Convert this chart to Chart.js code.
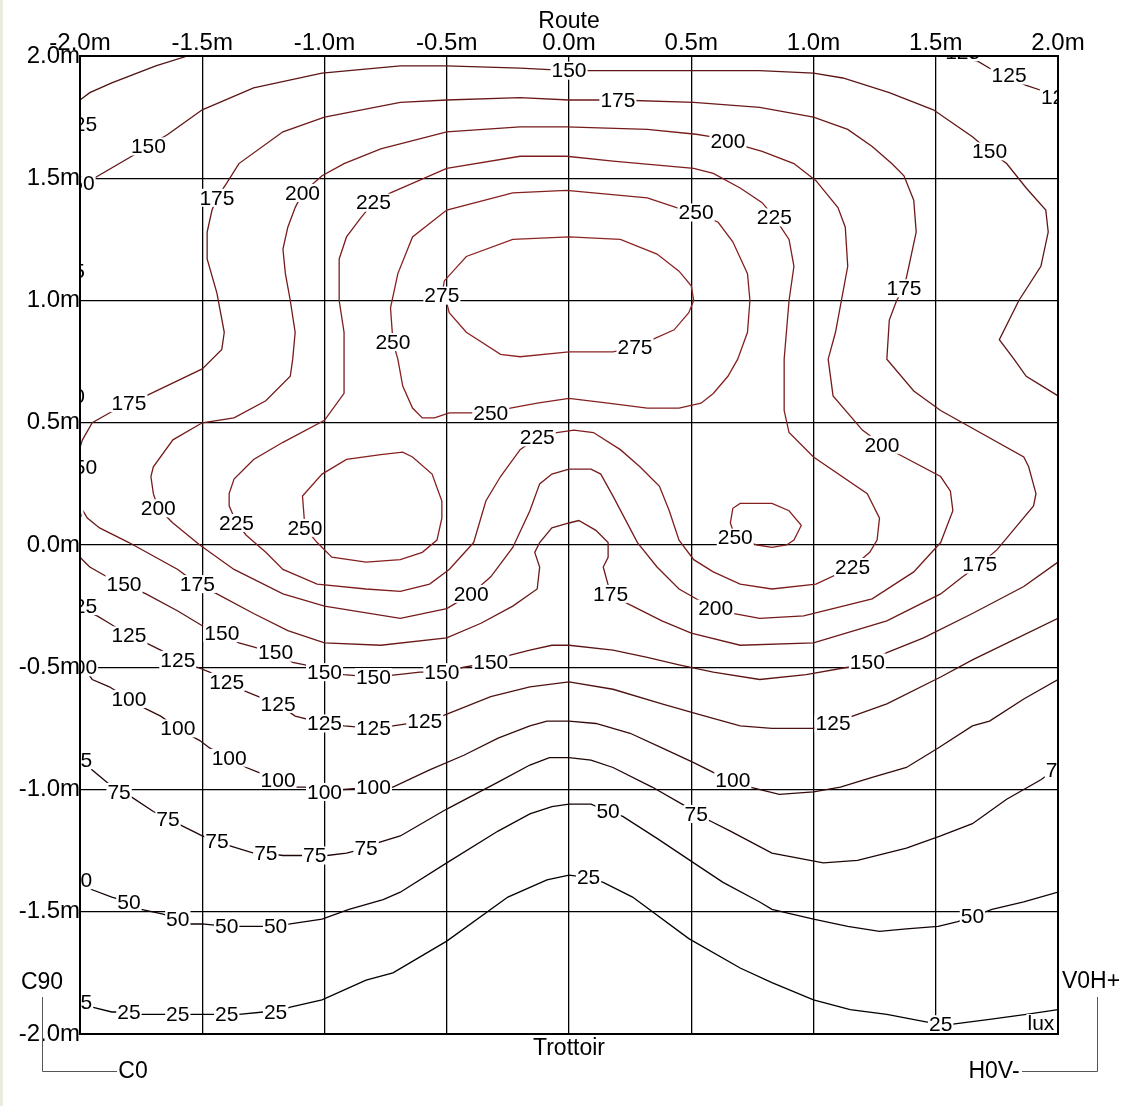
<!DOCTYPE html>
<html><head><meta charset="utf-8">
<script src="https://cdn.jsdelivr.net/npm/chart.js@4.4.1/dist/chart.umd.min.js"></script>
<style>
html,body{margin:0;padding:0;background:#fff;}
#wrap{position:relative;width:1131px;height:1106px;overflow:hidden;}
#strip{position:absolute;left:0;top:0;width:3px;height:1106px;background:#ecebe0;}
canvas{display:block;}
</style></head><body>
<div id="wrap"><canvas id="c" width="1131" height="1106"></canvas><div id="strip"></div></div>
<script>
// ---- axis ticks (metres) ----
const xTickValues = [-2, -1.5, -1, -0.5, 0, 0.5, 1, 1.5, 2];
const yTickValues = [-2, -1.5, -1, -0.5, 0, 0.5, 1, 1.5, 2];
const topTitle = 'Route';
const bottomTitle = 'Trottoir';
const unitLabel = 'lux';

// ---- isolux contour polylines, [x m, y m] ----
const iso275 = [[-0.52,1.02],[-0.51,1.08],[-0.42,1.18],[-0.23,1.25],[0.00,1.26],[0.21,1.25],[0.36,1.19],[0.45,1.12],[0.50,1.06],[0.51,1.00],[0.49,0.95],[0.43,0.88],[0.34,0.84],[0.27,0.81],[0.18,0.79],[0.00,0.79],[-0.20,0.77],[-0.28,0.78],[-0.42,0.87],[-0.49,0.95],[-0.50,0.99],[-0.52,1.02]];
const iso250Top = [[0.52,1.36],[0.44,1.38],[0.32,1.42],[-0.01,1.45],[-0.23,1.44],[-0.50,1.37],[-0.64,1.26],[-0.70,1.11],[-0.73,0.97],[-0.72,0.83],[-0.70,0.76],[-0.68,0.65],[-0.64,0.56],[-0.60,0.52],[-0.55,0.52],[-0.49,0.54],[-0.32,0.54],[-0.24,0.56],[-0.13,0.58],[0.00,0.60],[0.16,0.58],[0.32,0.56],[0.45,0.56],[0.54,0.58],[0.59,0.62],[0.65,0.69],[0.69,0.76],[0.73,0.87],[0.74,1.00],[0.73,1.11],[0.67,1.24],[0.61,1.32],[0.52,1.36]];
const iso250Left = [[-1.08,0.07],[-1.09,0.20],[-1.01,0.29],[-0.91,0.35],[-0.77,0.37],[-0.68,0.38],[-0.64,0.36],[-0.56,0.29],[-0.52,0.18],[-0.52,0.11],[-0.54,0.02],[-0.60,-0.03],[-0.69,-0.06],[-0.83,-0.07],[-0.97,-0.05],[-1.03,0.01],[-1.08,0.07]];
const iso250Right = [[0.68,0.03],[0.66,0.09],[0.67,0.15],[0.70,0.17],[0.83,0.17],[0.90,0.14],[0.95,0.08],[0.92,0.02],[0.89,0.00],[0.83,-0.01],[0.77,0.00],[0.68,0.03]];
const iso225 = [[-0.80,1.40],[-0.85,1.34],[-0.91,1.26],[-0.94,1.17],[-0.94,1.00],[-0.92,0.87],[-0.92,0.62],[-1.00,0.51],[-1.17,0.42],[-1.29,0.35],[-1.37,0.27],[-1.39,0.21],[-1.39,0.16],[-1.36,0.09],[-1.32,0.04],[-1.24,-0.03],[-1.17,-0.10],[-1.03,-0.16],[-0.83,-0.18],[-0.69,-0.19],[-0.57,-0.16],[-0.49,-0.10],[-0.39,0.01],[-0.34,0.18],[-0.28,0.28],[-0.20,0.39],[-0.13,0.44],[-0.05,0.46],[0.02,0.47],[0.10,0.46],[0.21,0.39],[0.29,0.32],[0.37,0.24],[0.41,0.14],[0.45,0.02],[0.51,-0.06],[0.59,-0.11],[0.70,-0.16],[0.83,-0.18],[1.01,-0.16],[1.16,-0.09],[1.23,-0.03],[1.26,0.02],[1.27,0.11],[1.22,0.21],[1.00,0.36],[0.90,0.46],[0.88,0.55],[0.88,0.76],[0.90,1.00],[0.92,1.14],[0.90,1.25],[0.84,1.34],[0.79,1.40],[0.70,1.46],[0.59,1.52],[0.51,1.54],[0.18,1.57],[-0.01,1.59],[-0.20,1.59],[-0.50,1.54],[-0.73,1.44],[-0.80,1.40]];
const iso200 = [[-1.09,1.44],[-1.12,1.38],[-1.15,1.30],[-1.17,1.21],[-1.16,1.11],[-1.14,1.00],[-1.12,0.87],[-1.13,0.76],[-1.14,0.69],[-1.24,0.59],[-1.37,0.52],[-1.50,0.50],[-1.62,0.43],[-1.70,0.32],[-1.71,0.28],[-1.70,0.21],[-1.68,0.15],[-1.62,0.09],[-1.51,0.00],[-1.37,-0.10],[-1.17,-0.20],[-1.00,-0.25],[-0.69,-0.30],[-0.50,-0.26],[-0.40,-0.20],[-0.32,-0.13],[-0.23,-0.01],[-0.16,0.14],[-0.12,0.25],[-0.07,0.29],[0.00,0.31],[0.09,0.31],[0.13,0.29],[0.18,0.20],[0.28,0.01],[0.36,-0.09],[0.45,-0.18],[0.52,-0.22],[0.60,-0.26],[0.67,-0.28],[0.78,-0.30],[0.96,-0.29],[1.24,-0.22],[1.41,-0.11],[1.52,0.01],[1.57,0.14],[1.56,0.22],[1.52,0.28],[1.35,0.37],[1.28,0.41],[1.20,0.47],[1.08,0.61],[1.06,0.76],[1.09,0.87],[1.14,1.14],[1.13,1.30],[1.10,1.38],[1.01,1.49],[0.92,1.56],[0.79,1.61],[0.65,1.65],[0.58,1.67],[0.52,1.68],[0.32,1.70],[-0.01,1.71],[-0.20,1.71],[-0.50,1.69],[-0.77,1.62],[-0.92,1.56],[-1.01,1.51],[-1.09,1.44]];
const iso175 = [[-2.00,0.40],[-1.99,0.43],[-1.95,0.50],[-1.88,0.54],[-1.80,0.58],[-1.73,0.61],[-1.50,0.72],[-1.42,0.80],[-1.41,0.87],[-1.44,1.03],[-1.48,1.17],[-1.48,1.28],[-1.46,1.37],[-1.44,1.42],[-1.40,1.48],[-1.35,1.56],[-1.17,1.69],[-1.00,1.75],[-0.69,1.81],[-0.50,1.82],[-0.20,1.83],[0.00,1.82],[0.20,1.82],[0.51,1.81],[0.78,1.79],[1.00,1.75],[1.14,1.70],[1.24,1.63],[1.32,1.56],[1.37,1.51],[1.41,1.41],[1.42,1.28],[1.39,1.14],[1.37,1.05],[1.34,1.00],[1.31,0.92],[1.30,0.76],[1.41,0.63],[1.52,0.55],[1.86,0.36],[1.88,0.32],[1.91,0.21],[1.90,0.16],[1.75,-0.02],[1.68,-0.08],[1.61,-0.13],[1.52,-0.20],[1.30,-0.31],[1.00,-0.40],[0.70,-0.41],[0.50,-0.36],[0.38,-0.31],[0.24,-0.24],[0.17,-0.20],[0.14,-0.09],[0.16,-0.05],[0.16,0.01],[0.11,0.06],[0.04,0.10],[0.00,0.09],[-0.07,0.07],[-0.12,0.01],[-0.14,-0.03],[-0.12,-0.09],[-0.13,-0.18],[-0.23,-0.25],[-0.36,-0.32],[-0.50,-0.38],[-0.77,-0.41],[-1.00,-0.40],[-1.15,-0.35],[-1.29,-0.28],[-1.44,-0.20],[-1.52,-0.16],[-1.60,-0.10],[-1.80,0.01],[-1.92,0.07],[-1.97,0.11],[-2.00,0.16]];
const iso150Top = [[-2.00,1.46],[-1.96,1.49],[-1.72,1.63],[-1.64,1.68],[-1.50,1.78],[-1.29,1.87],[-1.01,1.93],[-0.69,1.96],[-0.50,1.96],[-0.20,1.95],[0.00,1.94],[0.51,1.94],[0.78,1.94],[1.00,1.93],[1.12,1.91],[1.31,1.85],[1.49,1.78],[1.65,1.67],[1.72,1.61],[1.79,1.56],[1.87,1.46],[1.95,1.37],[1.96,1.28],[1.93,1.14],[1.84,1.00],[1.76,0.84],[1.82,0.76],[1.87,0.69],[2.00,0.61]];
const iso150Bottom = [[-2.00,-0.05],[-1.99,-0.06],[-1.96,-0.09],[-1.89,-0.13],[-1.82,-0.16],[-1.73,-0.20],[-1.60,-0.27],[-1.50,-0.33],[-1.42,-0.36],[-1.35,-0.40],[-1.28,-0.42],[-1.20,-0.44],[-1.13,-0.48],[-1.08,-0.49],[-1.00,-0.52],[-0.92,-0.53],[-0.80,-0.54],[-0.70,-0.53],[-0.61,-0.52],[-0.52,-0.52],[-0.43,-0.50],[-0.32,-0.48],[-0.24,-0.45],[-0.16,-0.43],[-0.07,-0.41],[0.00,-0.41],[0.18,-0.43],[0.32,-0.46],[0.45,-0.49],[0.59,-0.52],[0.78,-0.55],[0.97,-0.53],[1.14,-0.50],[1.22,-0.48],[1.30,-0.44],[1.45,-0.38],[1.65,-0.28],[1.86,-0.17],[2.00,-0.07]];
const iso125TopLeft = [[-2.00,1.82],[-1.96,1.85],[-1.87,1.89],[-1.69,1.96],[-1.56,2.00]];
const iso125TopRight = [[1.53,2.00],[1.67,1.98],[1.72,1.95],[1.80,1.91],[1.87,1.88],[1.93,1.86],[2.00,1.82]];
const iso125Bottom = [[-2.00,-0.26],[-1.93,-0.29],[-1.88,-0.32],[-1.80,-0.37],[-1.73,-0.40],[-1.67,-0.43],[-1.60,-0.47],[-1.52,-0.50],[-1.47,-0.52],[-1.40,-0.56],[-1.32,-0.60],[-1.27,-0.62],[-1.19,-0.65],[-1.12,-0.70],[-1.00,-0.73],[-0.92,-0.74],[-0.80,-0.75],[-0.72,-0.74],[-0.59,-0.72],[-0.52,-0.70],[-0.32,-0.62],[-0.16,-0.58],[0.00,-0.56],[0.18,-0.59],[0.38,-0.65],[0.52,-0.69],[0.70,-0.74],[0.83,-0.75],[1.00,-0.75],[1.08,-0.73],[1.16,-0.70],[1.30,-0.65],[1.52,-0.54],[1.65,-0.47],[2.00,-0.30]];
const iso100 = [[-2.00,-0.48],[-1.95,-0.55],[-1.88,-0.58],[-1.80,-0.63],[-1.73,-0.67],[-1.67,-0.70],[-1.60,-0.75],[-1.51,-0.80],[-1.47,-0.83],[-1.39,-0.87],[-1.32,-0.91],[-1.27,-0.93],[-1.19,-0.96],[-1.12,-0.99],[-1.08,-0.99],[-1.00,-1.01],[-0.92,-1.00],[-0.80,-0.99],[-0.72,-0.99],[-0.57,-0.92],[-0.43,-0.86],[-0.29,-0.79],[-0.16,-0.74],[-0.09,-0.72],[0.00,-0.72],[0.11,-0.73],[0.25,-0.77],[0.38,-0.83],[0.51,-0.89],[0.59,-0.93],[0.67,-0.96],[0.74,-0.99],[0.86,-1.02],[1.00,-1.01],[1.11,-0.99],[1.24,-0.95],[1.38,-0.91],[1.51,-0.83],[1.65,-0.74],[1.72,-0.72],[1.86,-0.63],[2.00,-0.55]];
const iso75 = [[-2.00,-0.85],[-1.95,-0.92],[-1.89,-0.97],[-1.84,-1.01],[-1.79,-1.03],[-1.70,-1.09],[-1.64,-1.12],[-1.58,-1.15],[-1.50,-1.19],[-1.44,-1.21],[-1.39,-1.23],[-1.29,-1.26],[-1.24,-1.26],[-1.17,-1.27],[-1.04,-1.27],[-0.99,-1.27],[-0.91,-1.26],[-0.83,-1.24],[-0.79,-1.22],[-0.69,-1.19],[-0.50,-1.08],[-0.29,-0.97],[-0.16,-0.90],[-0.08,-0.87],[0.00,-0.87],[0.09,-0.88],[0.18,-0.91],[0.34,-0.99],[0.48,-1.07],[0.52,-1.10],[0.58,-1.13],[0.66,-1.17],[0.83,-1.26],[1.04,-1.30],[1.18,-1.29],[1.38,-1.24],[1.52,-1.19],[1.65,-1.14],[1.79,-1.04],[1.93,-0.96],[2.00,-0.91]];
const iso50 = [[-2.00,-1.37],[-1.95,-1.41],[-1.87,-1.44],[-1.80,-1.46],[-1.75,-1.49],[-1.66,-1.51],[-1.60,-1.53],[-1.55,-1.55],[-1.50,-1.55],[-1.40,-1.56],[-1.35,-1.56],[-1.26,-1.56],[-1.20,-1.56],[-1.14,-1.55],[-1.01,-1.53],[-0.90,-1.49],[-0.76,-1.45],[-0.69,-1.42],[-0.50,-1.30],[-0.29,-1.17],[-0.16,-1.10],[-0.07,-1.07],[0.00,-1.06],[0.09,-1.06],[0.16,-1.09],[0.22,-1.11],[0.36,-1.20],[0.51,-1.30],[0.63,-1.38],[0.78,-1.46],[0.83,-1.49],[1.00,-1.53],[1.14,-1.56],[1.27,-1.58],[1.38,-1.57],[1.51,-1.56],[1.59,-1.54],[1.65,-1.52],[1.73,-1.49],[1.86,-1.46],[2.00,-1.42]];
const iso25 = [[-2.00,-1.87],[-1.95,-1.89],[-1.87,-1.91],[-1.80,-1.91],[-1.75,-1.92],[-1.66,-1.92],[-1.60,-1.92],[-1.55,-1.92],[-1.48,-1.92],[-1.40,-1.92],[-1.35,-1.92],[-1.25,-1.91],[-1.20,-1.91],[-1.14,-1.89],[-1.01,-1.86],[-0.83,-1.78],[-0.72,-1.75],[-0.50,-1.62],[-0.25,-1.44],[-0.09,-1.37],[0.00,-1.35],[0.08,-1.36],[0.14,-1.38],[0.26,-1.44],[0.49,-1.61],[0.70,-1.73],[0.83,-1.79],[1.00,-1.86],[1.15,-1.90],[1.30,-1.92],[1.46,-1.95],[1.52,-1.96],[1.57,-1.96],[1.72,-1.94],[1.87,-1.92],[2.00,-1.90]];

const contourValues = [275, 250, 250, 250, 225, 200, 175, 150, 150, 125, 125, 125, 100, 75, 50, 25];
const contourLines = [iso275, iso250Top, iso250Left, iso250Right, iso225, iso200, iso175, iso150Top, iso150Bottom, iso125TopLeft, iso125TopRight, iso125Bottom, iso100, iso75, iso50, iso25];

// ---- contour value labels: [value, x m, y m, anchor] ----
const isoLabels = [
  [125,1.61,2.016],[125,1.80,1.92],[125,1.93,1.83,'l'],
  [150,-1.72,1.63],[150,0.00,1.94],[150,1.72,1.61],
  [175,-1.44,1.42],[175,0.20,1.82],[175,1.37,1.05],[175,-1.80,0.58],[175,1.68,-0.08],[175,0.17,-0.20],[175,-1.52,-0.16],
  [200,-1.09,1.44],[200,0.65,1.65],[200,1.28,0.41],[200,-1.68,0.15],[200,-0.40,-0.20],[200,0.60,-0.26],
  [225,-0.80,1.40],[225,0.84,1.34],[225,-1.36,0.09],[225,-0.13,0.44],[225,1.16,-0.09],
  [250,0.52,1.36],[250,-0.72,0.83],[250,-0.32,0.54],[250,-1.08,0.07],[250,0.68,0.03],
  [275,-0.52,1.02],[275,0.27,0.81],
  [150,-1.82,-0.16],[150,-1.42,-0.36],[150,-1.20,-0.44],[150,-1.00,-0.52],[150,-0.80,-0.54],[150,-0.52,-0.52],[150,-0.32,-0.48],[150,1.22,-0.48],
  [125,-1.80,-0.37],[125,-1.60,-0.47],[125,-1.40,-0.56],[125,-1.19,-0.65],[125,-1.00,-0.73],[125,-0.80,-0.75],[125,-0.59,-0.72],[125,1.08,-0.73],
  [100,-1.80,-0.63],[100,-1.60,-0.75],[100,-1.39,-0.87],[100,-1.19,-0.96],[100,-1.00,-1.01],[100,-0.80,-0.99],[100,0.67,-0.96],
  [75,-1.84,-1.01],[75,-1.64,-1.12],[75,-1.44,-1.21],[75,-1.24,-1.26],[75,-1.04,-1.27],[75,-0.83,-1.24],[75,0.52,-1.10],[75,1.95,-0.92,'l'],
  [50,-1.80,-1.46],[50,-1.60,-1.53],[50,-1.40,-1.56],[50,-1.20,-1.56],[50,0.16,-1.09],[50,1.65,-1.52],
  [25,-1.80,-1.91],[25,-1.60,-1.92],[25,-1.40,-1.92],[25,-1.20,-1.91],[25,0.08,-1.36],[25,1.52,-1.96],
  // labels of contours cut by the left border
  [125,-1.93,1.72,'r'],[150,-1.94,1.48,'r'],[175,-1.98,1.12,'r'],[150,-1.98,0.61,'r'],[150,-1.93,0.32,'r'],[175,-1.99,0.13,'r'],
  [125,-1.93,-0.25,'r'],[100,-1.93,-0.50,'r'],[75,-1.95,-0.88,'r'],[50,-1.95,-1.37,'r'],[25,-1.95,-1.87,'r']
];
const unitPos = [1.93, -1.955];

// ---- styling (derived, not data) ----
const FONT = "'Liberation Sans', Arial, sans-serif";
function lineColor(v){
  const map = {25:'#000000',50:'#120303',75:'#1f0606',100:'#360b0b',125:'#4e1111',150:'#5e1515',175:'#6c1919',200:'#761b1b',225:'#7e1d1d',250:'#861f1f',275:'#8e2323'};
  return map[v] || '#7a1c1c';
}

const datasets = contourLines.map((pts, i) => ({
  label: String(contourValues[i]),
  data: pts.map(p => ({x: p[0], y: p[1]})),
  showLine: true,
  borderColor: lineColor(contourValues[i]),
  borderWidth: 1.3,
  pointRadius: 0,
  pointHoverRadius: 0,
  tension: 0,
  fill: false
}));

const isoPlugin = {
  id: 'iso',
  afterDatasetsDraw(chart){
    const ctx = chart.ctx, ca = chart.chartArea;
    const xs = chart.scales.x, ys = chart.scales.y;
    ctx.save();
    ctx.beginPath(); ctx.rect(ca.left, ca.top, ca.right - ca.left, ca.bottom - ca.top); ctx.clip();
    ctx.font = '21px ' + FONT;
    ctx.textBaseline = 'middle';
    const drawLab = (txt, x, y, anchor) => {
      const px = xs.getPixelForValue(x), py = ys.getPixelForValue(y);
      const w = ctx.measureText(txt).width;
      let left = px - w / 2;
      if (anchor === 'r') left = px - w;
      if (anchor === 'l') left = px;
      ctx.fillStyle = '#ffffff';
      ctx.fillRect(left - 1, py - 9, w + 2, 18);
      ctx.fillStyle = '#000000';
      ctx.textAlign = 'left';
      ctx.fillText(txt, left, py + 1);
    };
    isoLabels.forEach(l => drawLab(String(l[0]), l[1], l[2], l[3]));
    drawLab(unitLabel, unitPos[0], unitPos[1]);
    ctx.restore();

    // frame
    ctx.save();
    ctx.strokeStyle = '#000'; ctx.lineWidth = 2;
    ctx.strokeRect(ca.left, ca.top, ca.right - ca.left, ca.bottom - ca.top);
    ctx.restore();

    // titles and orientation marks
    ctx.save();
    ctx.fillStyle = '#000';
    ctx.textAlign = 'center'; ctx.textBaseline = 'middle';
    ctx.font = '23px ' + FONT;
    const cx = xs.getPixelForValue(0);
    ctx.fillText(topTitle, cx, 22);
    ctx.fillText(bottomTitle, cx, 1049);
    ctx.fillText('C90', 42, 983);
    ctx.fillText('C0', 133, 1072);
    ctx.fillText('V0H+', 1091, 982);
    ctx.fillText('H0V-', 994, 1072);
    ctx.strokeStyle = '#555'; ctx.lineWidth = 1;
    ctx.beginPath();
    ctx.moveTo(42.5, 997); ctx.lineTo(42.5, 1071.5); ctx.lineTo(117, 1071.5);
    ctx.moveTo(1097.5, 997); ctx.lineTo(1097.5, 1071.5); ctx.lineTo(1022, 1071.5);
    ctx.stroke();
    ctx.restore();
  }
};

const tickFmt = v => (Math.round(v * 10) / 10).toFixed(1) + 'm';

new Chart(document.getElementById('c'), {
  type: 'scatter',
  data: { datasets },
  options: {
    responsive: false,
    animation: false,
    events: [],
    layout: { padding: { left: 0, top: 0, right: 73, bottom: 72 } },
    plugins: { legend: { display: false }, tooltip: { enabled: false }, title: { display: false } },
    scales: {
      x: {
        type: 'linear', position: 'top', min: -2, max: 2,
        afterBuildTicks: s => { s.ticks = xTickValues.map(v => ({value: v})); },
        afterFit: s => { s.height = 56; },
        ticks: { callback: tickFmt, font: { family: FONT, size: 24 }, color: '#000', padding: -2, maxRotation: 0, autoSkip: false },
        grid: { color: '#000', lineWidth: 1.3, drawTicks: false },
        border: { display: false }
      },
      y: {
        type: 'linear', position: 'left', min: -2, max: 2,
        afterBuildTicks: s => { s.ticks = yTickValues.map(v => ({value: v})); },
        afterFit: s => { s.width = 80; },
        ticks: { callback: tickFmt, font: { family: FONT, size: 24 }, color: '#000', padding: 0, autoSkip: false },
        grid: { color: '#000', lineWidth: 1.3, drawTicks: false },
        border: { display: false }
      }
    }
  },
  plugins: [isoPlugin]
});
</script>
</body></html>
